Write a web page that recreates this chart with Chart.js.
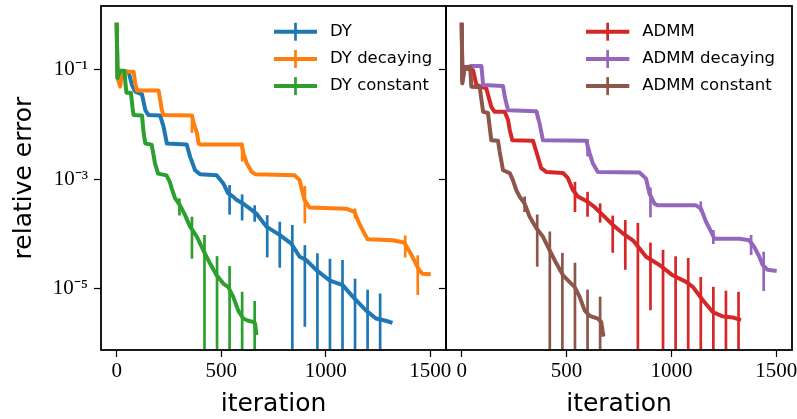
<!DOCTYPE html>
<html><head><meta charset="utf-8">
<script src="https://cdn.jsdelivr.net/npm/chart.js@4.4.1/dist/chart.umd.min.js"></script>
<style>
html,body{margin:0;padding:0;background:#fff;}
#wrap{position:relative;width:797px;height:419px;overflow:hidden;background:#fff;}
canvas{position:absolute;top:0;}
#c1{left:0;}
#c2{left:439px;}
</style></head><body>
<div id="wrap">
<canvas id="c1" width="470" height="419"></canvas>
<canvas id="c2" width="358" height="419"></canvas>
</div>
<script>
// ---------- tick labels ----------
const xTicks = [0, 500, 1000, 1500];
const yTicks = [1e-5, 1e-3, 1e-1];
const yTickLabels = ['10\u207B\u2075', '10\u207B\u00B3', '10\u207B\u00B9'];

// ---------- DY ----------
const dyIter  = [0, 4, 16, 57, 73, 89, 121, 137, 152, 208, 224, 240, 335, 351, 375, 398, 478, 510, 533, 557, 573, 605, 637, 668, 716, 779, 835, 875, 906, 954, 1017, 1081, 1129, 1192, 1240, 1287, 1319];
const dyValue = [0.724, 0.0708, 0.0955, 0.0912, 0.0525, 0.0398, 0.0355, 0.0182, 0.0148, 0.0145, 0.00912, 0.00447, 0.00427, 0.00257, 0.00145, 0.00123, 0.00117, 8.32e-4, 5.50e-4, 4.79e-4, 4.17e-4, 3.55e-4, 2.88e-4, 2.34e-4, 1.35e-4, 9.55e-5, 6.61e-5, 3.80e-5, 3.31e-5, 2.19e-5, 1.41e-5, 1.15e-5, 7.08e-6, 3.98e-6, 2.82e-6, 2.57e-6, 2.34e-6];
const dyBarIter = [540, 600, 660, 720, 780, 840, 900, 960, 1020, 1080, 1140, 1200, 1260];
const dyBarMid  = [5.0e-4, 3.5e-4, 2.49e-4, 1.28e-4, 9.5e-5, 6.3e-5, 3.2e-5, 2.1e-5, 1.38e-5, 1.12e-5, 6.3e-6, 3.8e-6, 2.7e-6];
const dyBarErr  = [2.76e-4, 1.75e-4, 8.3e-5, 9.1e-5, 7.1e-5, 8.2e-5, 3.0e-5, 2.3e-5, 2.1e-5, 2.2e-5, 8.8e-6, 5.7e-6, 5.4e-6];

// ---------- DY decaying ----------
const dydIter  = [0, 4, 17, 25, 81, 89, 97, 200, 208, 216, 224, 360, 368, 384, 392, 400, 598, 606, 622, 646, 662, 851, 875, 890, 898, 922, 1097, 1137, 1160, 1184, 1200, 1319, 1375, 1406, 1430, 1446, 1462, 1502];
const dydValue = [0.724, 0.0708, 0.0490, 0.0912, 0.0912, 0.0562, 0.0417, 0.0417, 0.0282, 0.0182, 0.0148, 0.0145, 0.0105, 0.00692, 0.00447, 0.00427, 0.00427, 0.00295, 0.00195, 0.00135, 0.00123, 0.00117, 9.55e-4, 5.50e-4, 4.17e-4, 3.02e-4, 2.88e-4, 2.51e-4, 1.55e-4, 1.02e-4, 7.94e-5, 7.59e-5, 6.92e-5, 4.37e-5, 2.88e-5, 2.19e-5, 1.86e-5, 1.82e-5];
const dydBarIter = [360, 600, 900, 1140, 1380, 1440];
const dydBarMid  = [0.0095, 3.35e-3, 4.5e-4, 2.4e-4, 6.5e-5, 2.4e-5];
const dydBarErr  = [0.0025, 1.25e-3, 2.95e-4, 5.0e-5, 2.8e-5, 1.64e-5];

// ---------- DY constant ----------
const dycIter  = [0, 4, 16, 37, 43, 47, 68, 76, 81, 121, 129, 137, 167, 175, 183, 198, 238, 254, 263, 279, 303, 327, 351, 383, 414, 446, 478, 510, 533, 557, 581, 605, 629, 652, 662, 668];
const dycValue = [0.724, 0.0708, 0.0955, 0.0955, 0.0501, 0.0380, 0.0380, 0.0200, 0.0148, 0.0145, 0.00692, 0.00447, 0.00427, 0.00295, 0.00195, 0.00126, 0.00117, 8.91e-4, 6.76e-4, 4.47e-4, 3.31e-4, 2.19e-4, 1.35e-4, 8.91e-5, 5.01e-5, 2.88e-5, 1.74e-5, 1.23e-5, 1.07e-5, 7.08e-6, 3.98e-6, 2.82e-6, 2.57e-6, 2.45e-6, 2.29e-6, 1.41e-6];
const dycBarIter = [300, 360, 420, 480, 540, 600, 660];
const dycBarMid  = [3.3e-4, 1.2e-4, 4.5e-5, 1.7e-5, 9.5e-6, 3.0e-6, 2.3e-6];
const dycBarErr  = [1.14e-4, 8.5e-5, 5.0e-5, 2.2e-5, 1.62e-5, 5.7e-6, 3.6e-6];

// ---------- ADMM ----------
const admIter  = [0, 3, 14, 54, 70, 117, 141, 157, 205, 221, 229, 241, 340, 356, 379, 403, 483, 506, 530, 554, 594, 633, 673, 721, 768, 816, 848, 879, 943, 1006, 1070, 1102, 1149, 1197, 1244, 1292, 1332];
const admValue = [0.724, 0.0631, 0.107, 0.0977, 0.0525, 0.0457, 0.0209, 0.0170, 0.0170, 0.0120, 0.00794, 0.00513, 0.00501, 0.00316, 0.00158, 0.00135, 0.00129, 0.00105, 6.31e-4, 4.79e-4, 3.98e-4, 3.09e-4, 2.19e-4, 1.45e-4, 1.02e-4, 7.59e-5, 5.37e-5, 3.80e-5, 2.69e-5, 1.74e-5, 1.32e-5, 1.07e-5, 6.17e-6, 3.72e-6, 3.09e-6, 2.95e-6, 2.63e-6];
const admBarIter = [540, 600, 660, 720, 780, 840, 900, 960, 1020, 1080, 1140, 1200, 1260, 1320];
const admBarMid  = [5.7e-4, 3.95e-4, 2.6e-4, 1.3e-4, 1.0e-4, 5.8e-5, 3.65e-5, 2.5e-5, 1.58e-5, 1.26e-5, 6.9e-6, 3.7e-6, 3.0e-6, 2.7e-6];
const admBarErr  = [3.2e-4, 1.9e-4, 1.0e-4, 8.5e-5, 7.8e-5, 1.0e-4, 3.25e-5, 2.6e-5, 2.3e-5, 2.35e-5, 9.3e-6, 7.0e-6, 6.1e-6, 6.0e-6];

// ---------- ADMM decaying ----------
const admdIter  = [0, 3, 14, 46, 94, 102, 197, 205, 221, 356, 371, 387, 594, 610, 625, 649, 848, 879, 895, 919, 935, 1117, 1141, 1165, 1189, 1205, 1324, 1371, 1395, 1419, 1435, 1459, 1502];
const admdValue = [0.724, 0.0631, 0.107, 0.117, 0.117, 0.0525, 0.0501, 0.0324, 0.0182, 0.0174, 0.0105, 0.00513, 0.00501, 0.00295, 0.00195, 0.00135, 0.00132, 0.00102, 5.50e-4, 3.55e-4, 3.31e-4, 3.31e-4, 2.88e-4, 1.66e-4, 1.10e-4, 8.13e-5, 8.13e-5, 7.59e-5, 5.75e-5, 3.80e-5, 2.69e-5, 2.19e-5, 2.09e-5];
const admdBarIter = [360, 600, 900, 1140, 1200, 1380, 1440];
const admdBarMid  = [0.0150, 4.0e-3, 4.5e-4, 3.2e-4, 9.1e-5, 6.8e-5, 2.8e-5];
const admdBarErr  = [0.0025, 1.4e-3, 2.5e-4, 7.0e-5, 2.6e-5, 2.7e-5, 1.9e-5];

// ---------- ADMM constant ----------
const admcIter  = [0, 3, 14, 40, 46, 86, 94, 102, 125, 133, 141, 173, 181, 197, 229, 244, 260, 276, 300, 324, 356, 387, 419, 451, 483, 522, 538, 562, 586, 610, 649, 665, 676];
const admcValue = [0.724, 0.0562, 0.112, 0.112, 0.0490, 0.0479, 0.0282, 0.0170, 0.0162, 0.00912, 0.00513, 0.00501, 0.00316, 0.00145, 0.00129, 9.55e-4, 6.31e-4, 4.79e-4, 3.55e-4, 2.04e-4, 1.26e-4, 8.91e-5, 5.01e-5, 2.88e-5, 1.74e-5, 1.23e-5, 1.07e-5, 7.08e-6, 3.98e-6, 3.16e-6, 2.82e-6, 2.45e-6, 1.32e-6];
const admcBarIter = [300, 360, 420, 480, 540, 600, 660];
const admcBarMid  = [3.65e-4, 1.25e-4, 5.0e-5, 1.8e-5, 1.05e-5, 3.4e-6, 2.6e-6];
const admcBarErr  = [1.15e-4, 1.0e-4, 6.0e-5, 2.67e-5, 1.9e-5, 6.1e-6, 4.5e-6];

// ---------- helpers ----------
const LINE_W = 4, BAR_W = 2.7;
function series(label, color, iters, vals, bIter, bMid, bErr, order) {
  return {
    label, borderColor: color, backgroundColor: color,
    data: iters.map((x, i) => ({x, y: vals[i]})),
    bars: {iter: bIter, mid: bMid, err: bErr},
    borderWidth: LINE_W, pointRadius: 0, pointHoverRadius: 0,
    tension: 0, fill: false, showLine: true, order,
    borderJoinStyle: 'round', borderCapStyle: 'butt'
  };
}

const errorBarPlugin = {
  id: 'errbars',
  afterDatasetDraw(chart, args) {
    const ds = chart.data.datasets[args.index];
    if (!ds.bars) return;
    const {ctx, chartArea: a, scales: {x, y}} = chart;
    ctx.save();
    ctx.beginPath();
    ctx.rect(a.left, a.top, a.right - a.left, a.bottom - a.top);
    ctx.clip();
    ctx.strokeStyle = ds.borderColor;
    ctx.lineWidth = BAR_W;
    ctx.lineCap = 'butt';
    ds.bars.iter.forEach((it, i) => {
      const m = ds.bars.mid[i], e = ds.bars.err[i];
      const px = x.getPixelForValue(it);
      const top = y.getPixelForValue(m + e);
      const lo = m - e;
      const bot = lo > 0 ? y.getPixelForValue(lo) : a.bottom + 10;
      ctx.beginPath();
      ctx.moveTo(px, top);
      ctx.lineTo(px, bot);
      ctx.stroke();
    });
    ctx.restore();
  }
};

const framePlugin = {
  id: 'frame',
  afterDatasetsDraw(chart) {
    const {ctx, chartArea: a} = chart;
    ctx.save();
    ctx.strokeStyle = '#000';
    ctx.lineWidth = 1.8;
    ctx.strokeRect(a.left, a.top, a.right - a.left, a.bottom - a.top);
    ctx.restore();
  }
};

const legendPlugin = {
  id: 'errLegend',
  afterDraw(chart, args, opts) {
    const {ctx} = chart;
    ctx.save();
    chart.data.datasets.forEach((ds, i) => {
      const yy = opts.y0 + i * opts.dy;
      ctx.strokeStyle = ds.borderColor;
      ctx.lineWidth = LINE_W;
      ctx.lineCap = 'butt';
      ctx.beginPath();
      ctx.moveTo(opts.x0, yy); ctx.lineTo(opts.x1, yy); ctx.stroke();
      ctx.lineWidth = BAR_W;
      const xm = (opts.x0 + opts.x1) / 2;
      ctx.beginPath();
      ctx.moveTo(xm, yy - 9); ctx.lineTo(xm, yy + 9); ctx.stroke();
      ctx.fillStyle = '#000';
      ctx.font = '16.5px "DejaVu Sans"';
      ctx.textBaseline = 'middle';
      ctx.textAlign = 'left';
      ctx.fillText(ds.label, opts.tx, yy);
    });
    ctx.restore();
  }
};

function yLabel(v) {
  const i = yTicks.findIndex(t => Math.abs(Math.log10(t) - Math.log10(v)) < 1e-6);
  return i >= 0 ? yTickLabels[i] : '';
}

function makeOptions(isLeft, padRight, legendPos) {
  const tickFont = {family: '"Liberation Serif", serif', size: 21};
  const titleFont = {family: '"DejaVu Sans", sans-serif', size: 25};
  return {
    responsive: false, devicePixelRatio: 1, animation: false,
    events: [],
    layout: {padding: {top: 6, left: 0, right: padRight, bottom: 0}},
    plugins: {legend: {display: false}, tooltip: {enabled: false}, errLegend: legendPos},
    scales: {
      x: {
        type: 'linear', min: -75, max: 1575,
        afterBuildTicks: s => { s.ticks = xTicks.map(v => ({value: v})); },
        afterFit: s => { s.height = 69; s.paddingLeft = 0; s.paddingRight = 0; },
        ticks: {font: tickFont, color: '#000', padding: 2, maxRotation: 0, autoSkip: false,
                callback: v => String(v)},
        grid: {drawOnChartArea: false, drawTicks: true, tickLength: 7, tickColor: '#000', tickWidth: 1.2},
        border: {display: false},
        title: {display: true, text: 'iteration', font: titleFont, color: '#000', padding: {top: 0, bottom: 0}}
      },
      y: {
        type: 'logarithmic', min: 7.5e-7, max: 1.46,
        afterBuildTicks: s => { s.ticks = yTicks.map(v => ({value: v})); },
        afterFit: s => { s.width = isLeft ? 101 : 7; s.paddingTop = 0; s.paddingBottom = 0; },
        ticks: {font: tickFont, color: '#000', padding: 6, autoSkip: false,
                callback: v => isLeft ? yLabel(v) : ''},
        grid: {drawOnChartArea: false, drawTicks: true, tickLength: 7, tickColor: '#000', tickWidth: 1.2},
        border: {display: false},
        title: {display: isLeft, text: 'relative error', font: titleFont, color: '#000', padding: {top: 9, bottom: 0}}
      }
    }
  };
}

new Chart(document.getElementById('c1'), {
  type: 'line',
  data: {datasets: [
    series('DY', '#1f77b4', dyIter, dyValue, dyBarIter, dyBarMid, dyBarErr, 3),
    series('DY decaying', '#ff7f0e', dydIter, dydValue, dydBarIter, dydBarMid, dydBarErr, 2),
    series('DY constant', '#2ca02c', dycIter, dycValue, dycBarIter, dycBarMid, dycBarErr, 1)
  ]},
  options: makeOptions(true, 24, {x0: 274, x1: 317, tx: 330, y0: 31.7, dy: 27.2}),
  plugins: [errorBarPlugin, framePlugin, legendPlugin]
});

new Chart(document.getElementById('c2'), {
  type: 'line',
  data: {datasets: [
    series('ADMM', '#d62728', admIter, admValue, admBarIter, admBarMid, admBarErr, 3),
    series('ADMM decaying', '#9467bd', admdIter, admdValue, admdBarIter, admdBarMid, admdBarErr, 2),
    series('ADMM constant', '#8c564b', admcIter, admcValue, admcBarIter, admcBarMid, admcBarErr, 1)
  ]},
  options: makeOptions(false, 5, {x0: 147, x1: 190.3, tx: 203.3, y0: 31.7, dy: 27.2}),
  plugins: [errorBarPlugin, framePlugin, legendPlugin]
});
</script>
</body></html>
